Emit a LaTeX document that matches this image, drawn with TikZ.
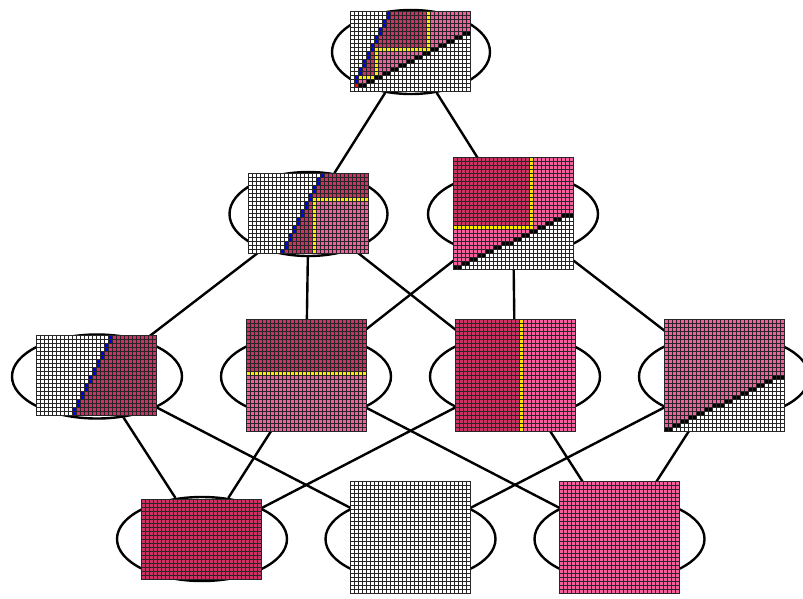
\documentclass[tikz,border=0pt]{standalone}
\usetikzlibrary{shapes.geometric}
\definecolor{dp}{RGB}{205,50,100}
\definecolor{lp}{RGB}{245,95,160}
\definecolor{bl}{RGB}{0,0,235}
\definecolor{yl}{RGB}{255,235,0}
\definecolor{rd}{RGB}{255,0,0}
\def\cellpitch{4}
\newcommand\cells[5]{\ifnum#2>#3\relax\else\ifnum#4>#5\relax\else
 \pgfmathtruncatemacro\cxa{round(#2*\cellpitch)}\pgfmathtruncatemacro\cxb{round((#3+1)*\cellpitch)+1}%
 \pgfmathtruncatemacro\cya{round(#4*\cellpitch)}\pgfmathtruncatemacro\cyb{round((#5+1)*\cellpitch)+1}%
 \fill[#1] (\cxa,\cya) rectangle (\cxb,\cyb);\fi\fi}
\newcommand\gridimg[4]{%
 \begin{scope}[shift={(#1,#2)}]
 #4
 \pgfmathtruncatemacro\gH{round(#3*\cellpitch)+1}%
 \pgfmathtruncatemacro\gW{round(30*\cellpitch)+1}%
 \foreach \i in {0,...,30}{\pgfmathtruncatemacro\gx{round(\i*\cellpitch)}\fill[gl] (\gx,0) rectangle (\gx+1,\gH);}
 \foreach \j in {0,...,#3}{\pgfmathtruncatemacro\gy{round(\j*\cellpitch)}\fill[gl] (0,\gy) rectangle (\gW,\gy+1);}
 \end{scope}}
\tikzset{
  ell/.style={ellipse, draw=black, line width=2.4pt, minimum width=170pt, minimum height=84pt, inner sep=0pt},
  narrow/.style={minimum width=158pt},
  edge/.style={line width=2.4pt, black},
  gl/.style={black!85},
}
\begin{document}
\begin{tikzpicture}[x=1pt,y=-1pt]
\useasboundingbox (0,0) rectangle (803,598);
\fill[white] (0,0) rectangle (803,598);
% nodes (ellipses)
\node[ell,narrow] (n0) at (411,52) {};
\node[ell,narrow] (n1) at (308.5,214) {};
\node[ell] (n2) at (513,214) {};
\node[ell] (n3) at (97,376.5) {};
\node[ell] (n4) at (306,376.5) {};
\node[ell] (n5) at (515,376.5) {};
\node[ell] (n6) at (724,376.5) {};
\node[ell] (n7) at (202,539) {};
\node[ell] (n8) at (410.5,539) {};
\node[ell] (n9) at (619.5,539) {};
% edges
\foreach \a/\b in {n0/n1,n0/n2,n1/n3,n1/n4,n1/n5,n2/n4,n2/n5,n2/n6,n3/n7,n3/n8,n4/n7,n4/n9,n5/n7,n5/n9,n6/n8,n6/n9}
  \draw[edge] (\a) -- (\b);
% ---- top image
\gridimg{350}{11}{20}{%
 \cells{white}{0}{29}{0}{19}
 \foreach \r in {0,...,17}{%
  \pgfmathtruncatemacro\b{round(9-\r*8/17)}%
  \pgfmathtruncatemacro\k{\r<5 ? 30 : 2+2*(18-\r)}%
  \pgfmathtruncatemacro\bb{\b+1}\pgfmathtruncatemacro\ke{\k-1}%
  \cells{lp}{\bb}{\ke}{\r}{\r}%
  \pgfmathtruncatemacro\de{min(\ke, (\r<9) ? 18 : ((\r<16) ? 5 : 0))}%
  \cells{dp}{\bb}{\de}{\r}{\r}%
 }
 \cells{yl}{19}{19}{0}{8}\cells{yl}{6}{19}{9}{9}\cells{yl}{6}{6}{10}{15}\cells{yl}{2}{5}{16}{16}
 \foreach \r in {0,...,17}{%
  \pgfmathtruncatemacro\b{round(9-\r*8/17)}%
  \pgfmathtruncatemacro\k{\r<5 ? 30 : 2+2*(18-\r)}%
  \cells{bl}{\b}{\b}{\r}{\r}%
  \ifnum\k<30 \pgfmathtruncatemacro\kk{min(\k+1,29)}\cells{black}{\k}{\kk}{\r}{\r}\fi
 }
 \cells{rd}{1}{1}{18}{18}\cells{black}{2}{3}{18}{18}
}
% ---- row 2 left
\gridimg{248}{173}{20}{%
 \cells{white}{0}{29}{0}{19}
 \foreach \r in {0,...,19}{%
  \pgfmathtruncatemacro\b{round(18-\r*10/19)}%
  \pgfmathtruncatemacro\bb{\b+1}%
  \pgfmathtruncatemacro\de{(\r<6) ? 29 : 15}%
  \cells{lp}{\bb}{29}{\r}{\r}%
  \cells{dp}{\bb}{\de}{\r}{\r}%
 }
 \cells{yl}{16}{29}{6}{6}\cells{yl}{16}{16}{7}{19}
 \foreach \r in {0,...,19}{%
  \pgfmathtruncatemacro\b{round(18-\r*10/19)}%
  \cells{bl}{\b}{\b}{\r}{\r}%
 }
}
% ---- row 2 right
\gridimg{453}{157}{28}{%
 \cells{white}{0}{29}{0}{27}
 \foreach \r in {0,...,27}{%
  \pgfmathtruncatemacro\k{\r<14 ? 30 : floor((27-\r)*30/14)}%
  \pgfmathtruncatemacro\ke{\k-1}%
  \cells{lp}{0}{\ke}{\r}{\r}%
  \pgfmathtruncatemacro\de{min(\ke,(\r<17) ? 18 : -1)}%
  \cells{dp}{0}{\de}{\r}{\r}%
 }
 \cells{yl}{19}{19}{0}{16}\cells{yl}{0}{19}{17}{17}
 \foreach \r in {14,...,27}{%
  \pgfmathtruncatemacro\k{floor((27-\r)*30/14)}%
  \pgfmathtruncatemacro\kk{min(floor((28-\r)*30/14)-1,29)}%
  \cells{black}{\k}{\kk}{\r}{\r}%
 }
}
% ---- row 3 a
\gridimg{36}{335}{20}{%
 \cells{white}{0}{29}{0}{19}
 \foreach \r in {0,...,19}{%
  \pgfmathtruncatemacro\b{round(18-\r*9/19)}%
  \pgfmathtruncatemacro\bb{\b+1}%
  \cells{dp}{\bb}{29}{\r}{\r}%
  \cells{bl}{\b}{\b}{\r}{\r}%
 }
}
% ---- row 3 b
\gridimg{246}{319}{28}{%
 \cells{dp}{0}{29}{0}{12}\cells{yl}{0}{29}{13}{13}\cells{lp}{0}{29}{14}{27}
}
% ---- row 3 c
\gridimg{455}{319}{28}{%
 \cells{dp}{0}{15}{0}{27}\cells{yl}{16}{16}{0}{27}\cells{lp}{17}{29}{0}{27}
}
% ---- row 3 d
\gridimg{664}{319}{28}{%
 \cells{white}{0}{29}{0}{27}
 \foreach \r in {0,...,27}{%
  \pgfmathtruncatemacro\k{\r<14 ? 30 : floor((27-\r)*30/14)}%
  \pgfmathtruncatemacro\ke{\k-1}%
  \cells{lp}{0}{\ke}{\r}{\r}%
 }
 \foreach \r in {14,...,27}{%
  \pgfmathtruncatemacro\k{floor((27-\r)*30/14)}%
  \pgfmathtruncatemacro\kk{min(floor((28-\r)*30/14)-1,29)}%
  \cells{black}{\k}{\kk}{\r}{\r}%
 }
}
% ---- row 4
\gridimg{141}{499}{20}{\cells{dp}{0}{29}{0}{19}}
\gridimg{350}{481}{28}{\cells{white}{0}{29}{0}{27}}
\gridimg{559}{481}{28}{\cells{lp}{0}{29}{0}{27}}
\end{tikzpicture}
\end{document}
